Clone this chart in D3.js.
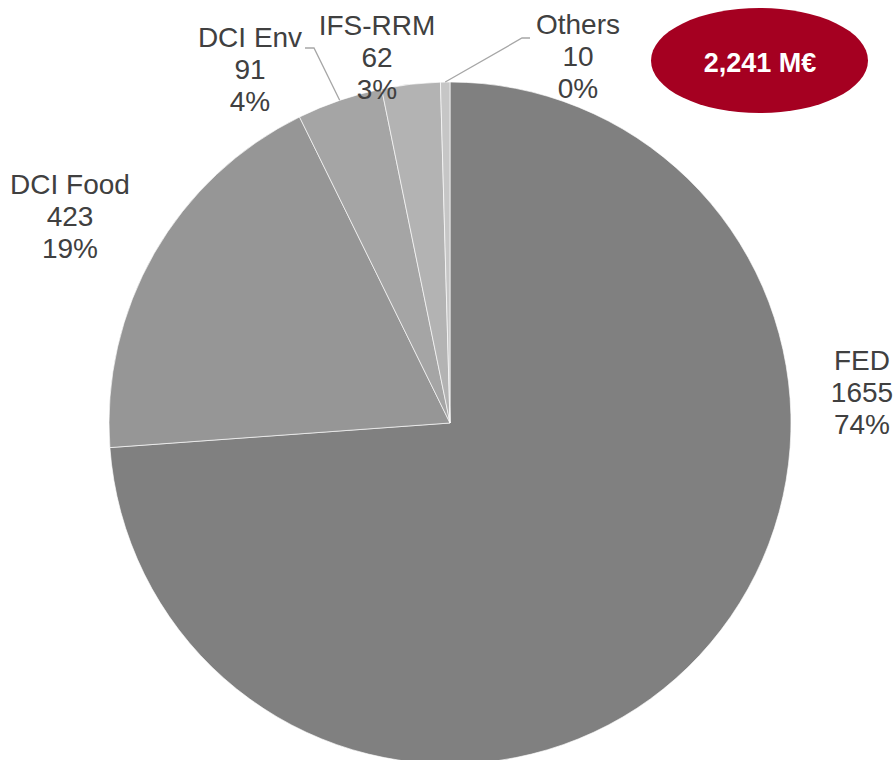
<!DOCTYPE html>
<html>
<head>
<meta charset="utf-8">
<script src="https://cdn.jsdelivr.net/npm/d3@7/dist/d3.min.js"></script>
<style>
  html, body { margin: 0; padding: 0; background: #ffffff; }
  svg { display: block; }
</style>
</head>
<body>
<script>
// Budget split (M€) by instrument
const categories = ["FED", "DCI Food", "DCI Env", "IFS-RRM", "Others"];
const values = [1655, 423, 91, 62, 10];
const percentLabels = ["74%", "19%", "4%", "3%", "0%"];
const totalLabel = "2,241 M€";

const sliceColors = ["#808080", "#969696", "#a5a5a5", "#b3b3b3", "#c6c6c6"];

// Where each label block sits (center x, first baseline y) and whether it gets a leader line
const labelLayout = [
  { x: 862, y: 370, leader: false },
  { x: 70,  y: 194, leader: false },
  { x: 250, y: 47,  leader: true, side: "right" },
  { x: 377, y: 35,  leader: false },
  { x: 578, y: 34,  leader: true, side: "left" }
];

const width = 894, height = 760;
const cx = 450, cy = 423, radius = 341;
const fontSize = 28, lineGap = 32;

const svg = d3.select("body").append("svg")
  .attr("width", width)
  .attr("height", height);

const data = categories.map((c, i) => ({ name: c, value: values[i], pct: percentLabels[i], i }));

const pie = d3.pie().sort(null).value(d => d.value);
const arcs = pie(data);
const arc = d3.arc().innerRadius(0).outerRadius(radius);
const color = d3.scaleOrdinal().domain(categories).range(sliceColors);

const g = svg.append("g").attr("transform", `translate(${cx},${cy})`);

g.selectAll("path.slice")
  .data(arcs)
  .join("path")
  .attr("class", "slice")
  .attr("d", arc)
  .attr("fill", d => color(d.data.name))
  .attr("stroke", "#ffffff")
  .attr("stroke-width", 0.8)
  .attr("stroke-opacity", 0.8);

// Leader lines from label to the slice's outer edge
const edgeArc = d3.arc().innerRadius(radius).outerRadius(radius);
arcs.forEach((a, i) => {
  const L = labelLayout[i];
  if (!L.leader) return;
  const [ex, ey] = edgeArc.centroid(a);
  const tx = L.side === "right" ? L.x + 55 : L.x - 48;
  const elbow = L.side === "right" ? tx + 9 : tx - 8;
  const ty = L.y + 1 - (L.side === "right" ? 0 : -3);
  svg.append("polyline")
    .attr("points", `${tx},${ty} ${elbow},${ty} ${cx + ex},${cy + ey}`)
    .attr("fill", "none")
    .attr("stroke", "#a6a6a6")
    .attr("stroke-width", 1.3);
});

// Data labels: name, value, percent
const labels = svg.selectAll("text.lbl")
  .data(data)
  .join("text")
  .attr("class", "lbl")
  .attr("text-anchor", "middle")
  .attr("font-family", "'Liberation Sans', Arial, sans-serif")
  .attr("font-size", fontSize)
  .attr("fill", "#404040");

labels.each(function(d, i) {
  const L = labelLayout[i];
  const t = d3.select(this);
  [d.name, d3.format("d")(d.value), d.pct].forEach((s, k) => {
    t.append("tspan").attr("x", L.x).attr("y", L.y + k * lineGap).text(s);
  });
});

// Total badge
const badge = svg.append("g");
badge.append("ellipse")
  .attr("cx", 759.5).attr("cy", 60.5)
  .attr("rx", 108.5).attr("ry", 52.5)
  .attr("fill", "#a50021");
badge.append("text")
  .attr("x", 760).attr("y", 72)
  .attr("text-anchor", "middle")
  .attr("font-family", "'Liberation Sans', Arial, sans-serif")
  .attr("font-weight", "bold")
  .attr("font-size", 27)
  .attr("fill", "#ffffff")
  .text(totalLabel);
</script>
</body>
</html>
